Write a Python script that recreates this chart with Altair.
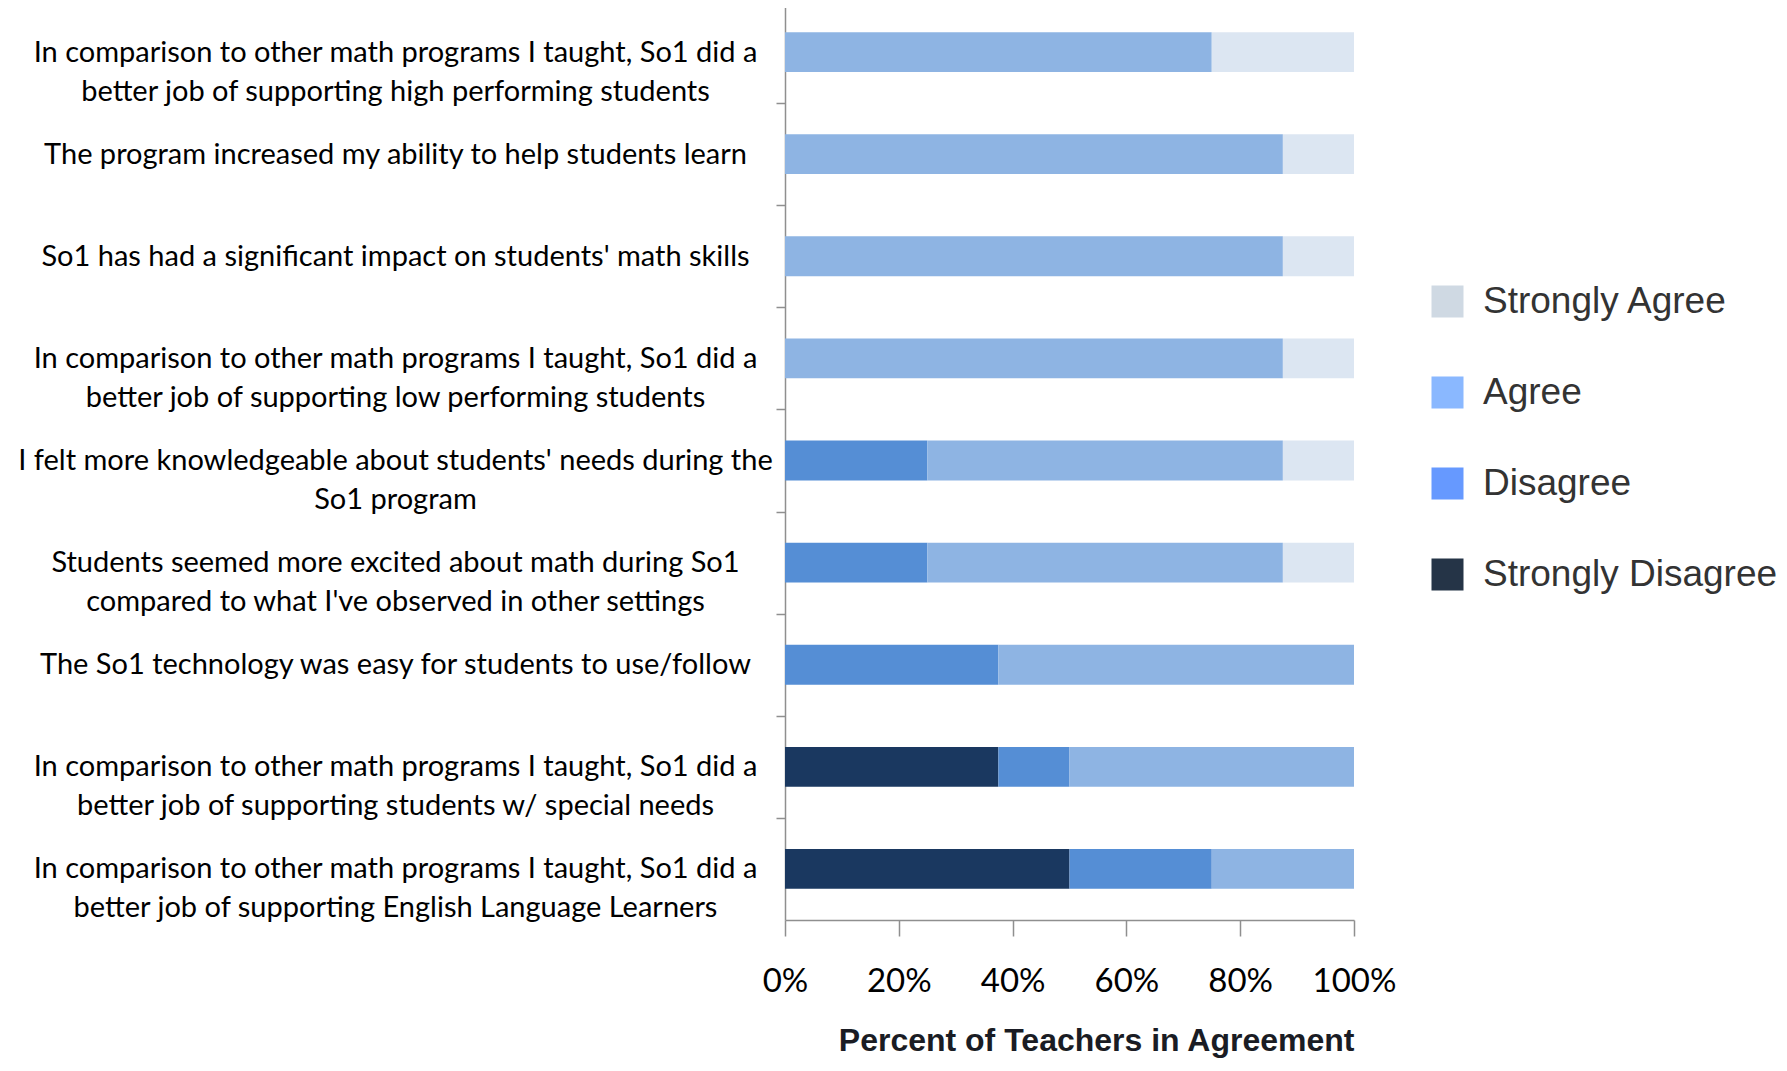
import altair as alt
import pandas as pd

categories = [
    "In comparison to other math programs I taught, So1 did a|better job of supporting high performing students",
    "The program increased my ability to help students learn",
    "So1 has had a significant impact on students' math skills",
    "In comparison to other math programs I taught, So1 did a|better job of supporting low performing students",
    "I felt more knowledgeable about students' needs during the|So1 program",
    "Students seemed more excited about math during So1|compared to what I've observed in other settings",
    "The So1 technology was easy for students to use/follow",
    "In comparison to other math programs I taught, So1 did a|better job of supporting students w/ special needs",
    "In comparison to other math programs I taught, So1 did a|better job of supporting English Language Learners",
]

strongly_disagree = [0, 0, 0, 0, 0, 0, 0, 37.5, 50]
disagree = [0, 0, 0, 0, 25, 25, 37.5, 12.5, 25]
agree = [75, 87.5, 87.5, 87.5, 62.5, 62.5, 62.5, 50, 25]
strongly_agree = [25, 12.5, 12.5, 12.5, 12.5, 12.5, 0, 0, 0]

responses = ["Strongly Agree", "Agree", "Disagree", "Strongly Disagree"]
bar_colors = ["#DCE6F2", "#8EB4E3", "#558ED5", "#1A3860"]
legend_colors = ["#CFD9E3", "#8AB8FF", "#6699FF", "#253447"]
stack_rank = {"Strongly Disagree": 0, "Disagree": 1, "Agree": 2, "Strongly Agree": 3}

series = {
    "Strongly Disagree": strongly_disagree,
    "Disagree": disagree,
    "Agree": agree,
    "Strongly Agree": strongly_agree,
}

rows = []
for resp, vals in series.items():
    for cat, v in zip(categories, vals):
        rows.append({"category": cat, "response": resp, "value": v, "rank": stack_rank[resp]})
df = pd.DataFrame(rows)
legend_df = pd.DataFrame({"key": responses})

W, H = 569, 912
y_range = [-7, H]
n = len(categories)
p_inner = 0.61
step = (y_range[1] - y_range[0]) / n
off = step * p_inner / 2

axis_gray = "#8f8f8f"

bars = alt.Chart(df).mark_bar().encode(
    x=alt.X(
        "value:Q",
        stack="zero",
        scale=alt.Scale(domain=[0, 100], nice=False),
        axis=alt.Axis(
            values=[0, 20, 40, 60, 80, 100],
            labelExpr="datum.value + '%'",
            grid=False,
            tickSize=16,
            tickWidth=1.5,
            tickColor=axis_gray,
            domainColor=axis_gray,
            domainWidth=1.5,
            labelFont="Lato",
            labelFontSize=33,
            labelColor="#000000",
            labelPadding=45,
            labelBaseline="middle",
            labelFlush=False,
            title="Percent of Teachers in Agreement",
            titleFont="Liberation Sans",
            titleFontSize=32,
            titleFontWeight="bold",
            titleColor="#1a1c24",
            titleX=W,
            titleY=130,
            titleAlign="right",
            titleBaseline="alphabetic",
        ),
    ),
    y=alt.Y(
        "category:N",
        sort=categories,
        scale=alt.Scale(range=y_range, paddingInner=p_inner, paddingOuter=p_inner / 2),
        axis=alt.Axis(
            title=None,
            labelExpr="split(datum.label, '|')",
            labelAlign="center",
            labelBaseline="middle",
            labelFont="Lato",
            labelFontSize=29,
            labelLineHeight=39,
            labelColor="#000000",
            labelLimit=0,
            labelPadding=381,
            tickSize=9,
            tickWidth=1.5,
            tickColor=axis_gray,
            domainColor=axis_gray,
            domainWidth=1.5,
            bandPosition=0,
            tickOffset=-off,
            labelOffset=off,
        ),
    ),
    color=alt.Color(
        "response:N",
        scale=alt.Scale(domain=responses, range=bar_colors),
        legend=None,
    ),
    order=alt.Order("rank:Q", sort="ascending"),
)

legend_layer = alt.Chart(legend_df).mark_square(size=0, opacity=1).encode(
    color=alt.Color(
        "key:N",
        scale=alt.Scale(domain=responses, range=legend_colors),
        legend=alt.Legend(
            title=None,
            orient="none",
            legendX=644,
            legendY=275,
            padding=0,
            symbolType="square",
            symbolSize=1024,
            symbolStrokeWidth=0,
            symbolOpacity=1,
            labelFont="Liberation Sans",
            labelFontSize=37,
            labelColor="#333333",
            labelOffset=17,
            labelLimit=0,
            rowPadding=53,
        ),
    ),
)

chart = alt.layer(legend_layer, bars).resolve_scale(color="independent").properties(
    width=W,
    height=H,
    autosize=alt.AutoSizeParams(type="none"),
    padding={"left": 777, "top": 0, "right": 425, "bottom": 138},
    background="white",
).configure_view(stroke=None)

chart.save("out.html", embed_options={"renderer": "svg", "actions": False})
